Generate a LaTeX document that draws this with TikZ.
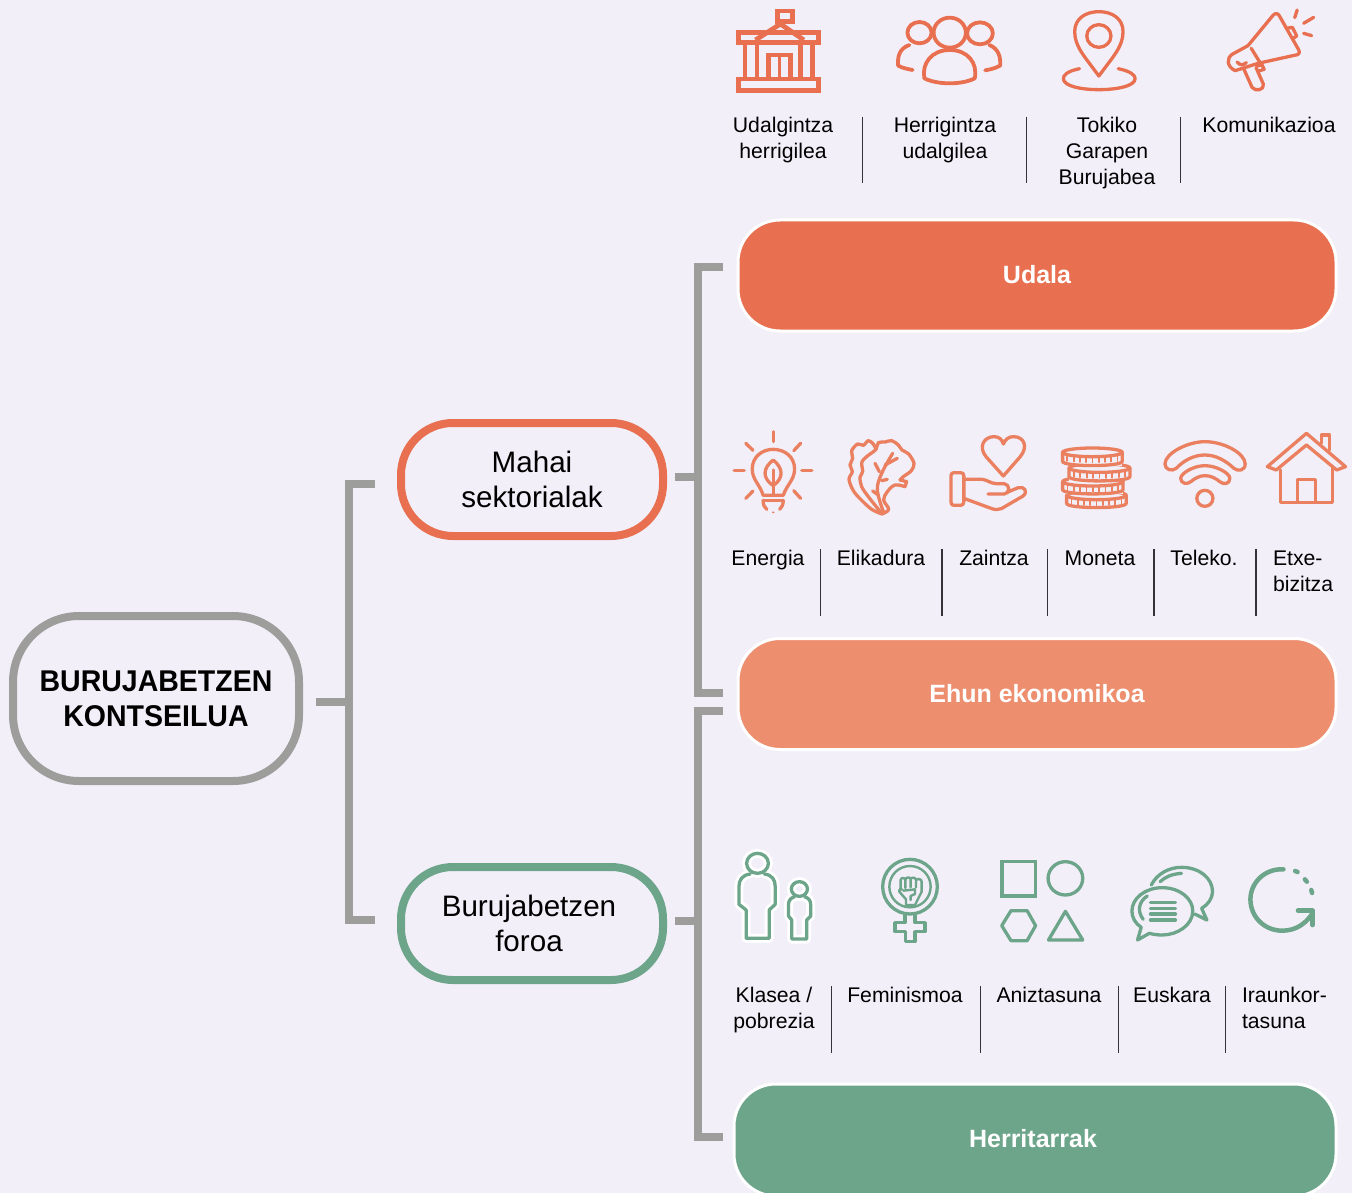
\documentclass[tikz,border=0pt]{standalone}
\usepackage{fontspec}
\setmainfont{Liberation Sans}
\newfontfamily\condfont{Liberation Sans}[FakeStretch=0.95]
\definecolor{bg}{HTML}{F2EFF9}
\definecolor{gr}{HTML}{9D9D9B}
\definecolor{orA}{HTML}{E87050}
\definecolor{orB}{HTML}{ED8E6E}
\definecolor{orC}{HTML}{EA8060}
\definecolor{grn}{HTML}{6DA58A}
\definecolor{sep}{HTML}{333338}
\newcommand\st{\rule[-10pt]{0pt}{26pt}}
\newcommand\coin[4]{%
  \pgfmathsetmacro\cxm{(#1+#2)/2}%
  \pgfmathsetmacro\rxm{(#2-#1)/2}%
  \fill[bg] (#1,#3+13) -- (#1,#3+#4) -- (#2,#3+#4) -- (#2,#3+13) -- cycle;
  \draw[ic,fill=bg] (#1,#3+13) -- (#1,#3+#4-13) .. controls (#1,#3+#4+4) and (#2,#3+#4+4) .. (#2,#3+#4-13) -- (#2,#3+13);
  \draw[ic,fill=bg] (\cxm,#3+13) ellipse [x radius=\rxm, y radius=13];
  \foreach \u in {-0.84,-0.63,-0.42,-0.21,0,0.21,0.42,0.63,0.84}{
    \pgfmathsetmacro\tx{\cxm+\u*\rxm}
    \pgfmathsetmacro\ty{#3+24+6*(1-\u*\u)}
    \draw[ic,line width=1.8pt] (\tx,\ty) -- (\tx,\ty+13);}
}
\tikzset{
  zrow/.style={shift={(720,#1)},x=0.40304pt,y=-0.33333pt},
  tri/.style args={#1/#2}{shift={(#1,#2)},x=0.33333pt,y=-0.33333pt},
  ic/.style={line width=3.3pt,line cap=round,line join=round},
  bld/.style={line width=4.8pt,line join=miter},
  bracket/.style={draw=gr,line width=8pt,line join=miter},
  pill/.style={rectangle,inner sep=0pt,outer sep=0pt,line width=8pt,align=center,font=\fontsize{29.6}{35}\selectfont,text=black},
  band/.style={rectangle,inner sep=0pt,outer sep=0pt,draw=white,line width=3pt,rounded corners=42pt,align=center,text=white,font=\fontsize{25}{30}\bfseries\selectfont},
  lbl/.style={anchor=north,inner sep=0pt,outer sep=0pt,align=center,text=black,font=\fontsize{21.2}{26}\selectfont},
  lbll/.style={anchor=north west,inner sep=0pt,outer sep=0pt,align=left,text=black,font=\fontsize{21.2}{26}\selectfont},
  sepl/.style={draw=sep,line width=1.3pt}
}
\begin{document}
\begin{tikzpicture}[x=1pt,y=-1pt]
\useasboundingbox (0,0) rectangle (1352,1193);
\fill[bg] (0,0) rectangle (1352,1193);

% pills
\node[pill,draw=gr,rounded corners=66pt,minimum width=286pt,minimum height=165pt,font=\condfont\fontsize{30}{35}\bfseries\selectfont] (main) at (156,698.5) {BURUJABETZEN\\KONTSEILUA};
\node[pill,draw=orA,rounded corners=52pt,minimum width=262pt,minimum height=113pt] (mahai) at (532,479.5) {Mahai\\sektorialak};
\node[pill,draw=grn,rounded corners=52pt,minimum width=262pt,minimum height=113pt] (foroa) at (532,923.5) {\hspace*{-6pt}Burujabetzen\\\hspace*{-6pt}foroa};
\node[band,fill=orA,minimum width=598pt,minimum height=111pt] (udala) at (1037,275.5) {\raisebox{2pt}{Udala}};
\node[band,fill=orB,minimum width=598pt,minimum height=111pt] (ehun) at (1037,694) {\raisebox{2pt}{Ehun ekonomikoa}};
\node[band,fill=grn,minimum width=602pt,minimum height=112pt] (herri) at (1035,1140) {\hspace*{-4pt}\raisebox{4pt}{Herritarrak}};

% brackets
\coordinate (s1) at (316,702); \coordinate (j1) at (349,702);
\coordinate (a1) at (375,484); \coordinate (a2) at (349,484);
\coordinate (a3) at (349,920); \coordinate (a4) at (375,920);
\draw[bracket] (a1) -- (a2) -- (a3) -- (a4);
\draw[bracket] (s1) -- (j1);
\coordinate (s2) at (675,477); \coordinate (j2) at (698,477);
\coordinate (b1) at (723,267); \coordinate (b2) at (698,267);
\coordinate (b3) at (698,693); \coordinate (b4) at (723,693);
\draw[bracket] (b1) -- (b2) -- (b3) -- (b4);
\draw[bracket] (s2) -- (j2);
\coordinate (s3) at (675,921); \coordinate (j3) at (698,921);
\coordinate (c1) at (723,711); \coordinate (c2) at (698,711);
\coordinate (c3) at (698,1137); \coordinate (c4) at (723,1137);
\draw[bracket] (c1) -- (c2) -- (c3) -- (c4);
\draw[bracket] (s3) -- (j3);

% labels row 1
\node[lbl] (l11) at (783,117) {\st Udalgintza\\\st herrigilea};
\node[lbl] (l12) at (945,117) {\st Herrigintza\\\st udalgilea};
\node[lbl] (l13) at (1107,117) {\st Tokiko\\\st Garapen\\\st Burujabea};
\node[lbl] (l14) at (1269,117) {\st Komunikazioa};
% labels row 2
\node[lbl] (l21) at (768,549) {\st Energia};
\node[lbl] (l22) at (881,549) {\st Elikadura};
\node[lbl] (l23) at (994,549) {\st Zaintza};
\node[lbl] (l24) at (1100,549) {\st Moneta};
\node[lbl] (l25) at (1204,549) {\st Teleko.};
\node[lbll] (l26) at (1273,549) {\st Etxe-\\\st bizitza};
% labels row 3
\node[lbl] (l31) at (774,986) {\st Klasea /\\\st pobrezia};
\node[lbl] (l32) at (905,986) {\st Feminismoa};
\node[lbl] (l33) at (1049,986) {\st Aniztasuna};
\node[lbl] (l34) at (1172,986) {\st Euskara};
\node[lbll] (l35) at (1242,986) {\st Iraunkor-\\\st tasuna};

% row 1 icons and separators
\begin{scope}[zrow=0]
  \foreach \s in {354,760,1143} \draw[sepl] (\s,350) -- (\s,550);
  \begin{scope}[draw=orA,color=orA]
    % building
    \draw[bld] (142,33) rectangle (180,65);
    \draw[bld] (150,65) -- (150,75);
    \draw[bld] (88,120) -- (150,72) -- (208,120);
    \draw[bld] (45,97) rectangle (245,127);
    \draw[bld] (45,237) rectangle (245,272);
    \foreach \s in {62,92,200,230} \draw[bld] (\s,127) -- (\s,237);
    \draw[bld] (120,237) -- (120,165) -- (175,165) -- (175,237);
    \draw[line width=3.4pt] (148,172) -- (148,237);
    % people
    \draw[ic,line width=3.8pt] (570,98) ellipse [x radius=40, y radius=45];
    \draw[ic,line width=3.8pt] (495,98) ellipse [x radius=30, y radius=32];
    \draw[ic,line width=3.8pt] (645,100) ellipse [x radius=32, y radius=33];
    \draw[ic,line width=3.8pt] (507,235) .. controls (500,190) and (525,150) .. (570,150) .. controls (615,150) and (640,190) .. (632,235) .. controls (600,255) and (540,255) .. (507,235) -- cycle;
    \draw[ic,line width=3.8pt] (470,135) .. controls (445,145) and (440,170) .. (442,197) .. controls (455,205) and (465,207) .. (478,210);
    \draw[ic,line width=3.8pt] (668,135) .. controls (690,145) and (697,170) .. (695,197) .. controls (682,205) and (672,208) .. (658,211);
    % pin
    \draw[ic] (940,228) .. controls (905,170) and (880,140) .. (880,95) .. controls (880,55) and (908,35) .. (940,35) .. controls (972,35) and (1000,55) .. (1000,95) .. controls (1000,140) and (975,170) .. (940,228) -- cycle;
    \draw[ic] (940,108) ellipse [x radius=30, y radius=34];
    \draw[ic] (892,206) .. controls (860,214) and (852,226) .. (852,236) .. controls (852,258) and (895,269) .. (940,269) .. controls (985,269) and (1030,258) .. (1030,236) .. controls (1030,226) and (1020,214) .. (988,206);
    % megaphone
    \draw[ic] (1310,137) -- (1372,46) .. controls (1378,38) and (1385,40) .. (1388,48) -- (1436,150) .. controls (1440,160) and (1435,165) .. (1425,166) -- (1335,190);
    \draw[ic] (1310,137) -- (1272,162) .. controls (1255,175) and (1258,200) .. (1278,212) -- (1335,190);
    \draw[ic] (1318,145) -- (1340,188);
    \draw[ic] (1405,85) -- (1420,82) -- (1431,108) -- (1421,116);
    \draw[ic] (1283,186) .. controls (1290,197) and (1298,196) .. (1306,188);
    \draw[ic] (1300,208) -- (1320,262) .. controls (1328,276) and (1352,270) .. (1348,252) -- (1330,203);
    \draw[ic] (1332,198) -- (1345,195) -- (1350,208) -- (1337,213);
    \draw[ic] (1432,30) -- (1426,53);
    \draw[ic] (1473,52) -- (1448,70);
    \draw[ic] (1448,100) -- (1468,107);
  \end{scope}
\end{scope}

% row 2 icons and separators
\begin{scope}[zrow=420]
  \foreach \s in {250,551,812,1077,1330} \draw[sepl] (\s,388) -- (\s,588);
  \begin{scope}[draw=orC,color=orC]
    % bulb
    \draw[ic] (132,35) -- (132,65);
    \draw[ic] (35,152) -- (60,152);
    \draw[ic] (203,152) -- (228,152);
    \draw[ic] (64,70) -- (82,91);
    \draw[ic] (200,70) -- (183,92);
    \draw[ic] (64,235) -- (82,213);
    \draw[ic] (200,235) -- (183,212);
    \draw[ic] (107,226) .. controls (100,195) and (80,180) .. (80,147) .. controls (80,110) and (105,88) .. (132,88) .. controls (160,88) and (185,110) .. (185,147) .. controls (185,180) and (165,195) .. (157,226) -- cycle;
    \draw[ic] (132,120) .. controls (105,145) and (105,175) .. (132,197) .. controls (158,175) and (158,145) .. (132,120) -- cycle;
    \draw[ic] (132,150) -- (132,226);
    \draw[ic] (107,241) -- (157,241);
    \draw[ic] (107,241) .. controls (107,255) and (110,262) .. (116,268);
    \draw[ic] (157,241) .. controls (157,255) and (153,262) .. (148,268);
    \fill (132,277) circle [x radius=3.5, y radius=3];
    % hand + heart
    \draw[ic] (703,168) -- (660,110) .. controls (640,80) and (655,50) .. (680,50) .. controls (692,50) and (700,58) .. (703,72) .. controls (708,58) and (716,50) .. (728,50) .. controls (755,50) and (765,80) .. (745,110) -- cycle;
    \draw[ic] (580,158) -- (597,158) .. controls (603,158) and (605,162) .. (605,168) -- (605,245) .. controls (605,252) and (602,256) .. (597,256) -- (580,256) .. controls (575,256) and (573,252) .. (573,245) -- (573,168) .. controls (573,162) and (575,158) .. (580,158) -- cycle;
    \draw[ic] (605,178) -- (650,178) .. controls (665,180) and (670,190) .. (685,191) -- (705,191) .. controls (720,192) and (720,222) .. (705,222) -- (665,222);
    \draw[ic] (712,217) -- (740,203) .. controls (755,198) and (765,215) .. (752,228) -- (698,266) .. controls (690,270) and (682,270) .. (670,264) -- (605,235);
    % wifi
    \draw[ic] (1104,132) .. controls (1104,100) and (1160,65) .. (1203,65) .. controls (1250,65) and (1303,100) .. (1303,132) .. controls (1303,152) and (1285,155) .. (1275,145) .. controls (1255,122) and (1230,105) .. (1203,105) .. controls (1175,105) and (1150,122) .. (1132,145) .. controls (1122,155) and (1104,150) .. (1104,132) -- cycle;
    \draw[ic] (1143,175) .. controls (1143,160) and (1175,137) .. (1203,137) .. controls (1232,137) and (1265,160) .. (1265,175) .. controls (1265,192) and (1250,195) .. (1240,185) .. controls (1230,175) and (1218,167) .. (1203,167) .. controls (1190,167) and (1178,175) .. (1168,185) .. controls (1158,195) and (1143,190) .. (1143,175) -- cycle;
    \draw[ic] (1203,235) ellipse [x radius=20, y radius=24];
    % house
    \draw[ic] (1358,140) -- (1455,40) -- (1552,140) -- (1530,150) -- (1455,75) -- (1380,150) -- cycle;
    \draw[ic] (1390,150) -- (1390,247) -- (1520,247) -- (1520,140);
    \draw[ic] (1432,247) -- (1432,178) -- (1477,178) -- (1477,247);
    \draw[ic] (1492,70) -- (1492,45) -- (1512,45) -- (1512,90);
    % coins
    \coin{860}{1008}{213}{50}
    \coin{850}{1000}{172}{50}
    \coin{866}{1017}{131}{52}
    \coin{850}{998}{84}{53}
  \end{scope}
\end{scope}

% lettuce
\begin{scope}[tri={840/430},draw=orC,color=orC]
  \draw[ic] plot[smooth,tension=0.55] coordinates {(126,252) (95,238) (62,208) (40,182) (27,148) (37,125) (30,105) (38,85) (35,62) (53,42) (70,46) (85,32) (100,42) (108,58)};
  \draw[ic] plot[smooth,tension=0.55] coordinates {(90,72) (108,58) (115,38) (135,36) (155,32) (175,45) (186,60) (206,72) (222,100) (214,122) (190,140) (180,150)};
  \draw[ic] (180,150) -- (200,155) -- (195,170);
  \draw[ic] plot[smooth,tension=0.6] coordinates {(195,170) (165,165) (142,185) (131,210) (146,238) (126,252)};
  \draw[ic] plot[smooth,tension=0.55] coordinates {(90,72) (66,95) (68,125) (60,142) (65,170) (85,200) (125,250)};
  \draw[ic] plot[smooth,tension=0.6] coordinates {(130,245) (112,180) (125,130) (158,70)};
  \draw[ic] (118,125) -- (105,100);
  \draw[ic] (135,105) -- (172,85);
  \draw[ic] (125,152) -- (142,148);
  \draw[ic] (115,195) -- (98,183);
\end{scope}

% row 3
\begin{scope}[zrow=840]
  \foreach \s in {277,646,989,1255} \draw[sepl] (\s,438) -- (\s,638);
  \begin{scope}[draw=grn,color=grn]
    % adult and child, with white halo
    \foreach \c/\w in {white/9pt,grn/3.3pt}{
      \draw[draw=\c,line width=\w,line cap=round,line join=round] (93,70) ellipse [x radius=27, y radius=30];
      \draw[draw=\c,line width=\w,line cap=round,line join=round] (75,102) .. controls (55,105) and (47,120) .. (47,140) -- (47,193) -- (65,210) -- (65,295) -- (122,295) -- (122,210) -- (137,193) -- (137,140) .. controls (137,120) and (130,105) .. (110,102);
      \draw[draw=\c,line width=\w,line cap=round,line join=round] (197,147) ellipse [x radius=20, y radius=22];
      \draw[draw=\c,line width=\w,line cap=round,line join=round] (185,170) .. controls (175,175) and (170,180) .. (170,195) -- (170,228) -- (178,240) -- (178,297) -- (215,297) -- (215,240) -- (225,228) -- (225,195) .. controls (225,180) and (220,175) .. (210,170);
    }
    % shapes
    \draw[ic,line join=miter] (700,65) rectangle (783,168);
    \draw[ic] (857,115) ellipse [x radius=43, y radius=50];
    \draw[ic] (699,257) -- (722,212) -- (762,212) -- (783,257) -- (762,302) -- (722,302) -- cycle;
    \draw[ic] (857,214) -- (900,300) -- (815,300) -- cycle;
    % speech bubbles
    \draw[ic] (1070,135) .. controls (1085,100) and (1115,82) .. (1145,82) .. controls (1190,82) and (1222,115) .. (1222,155) .. controls (1222,175) and (1210,195) .. (1195,205) -- (1208,240) -- (1178,222);
    \draw[ic] (1092,125) .. controls (1105,110) and (1122,102) .. (1145,100);
    \draw[ic] (1045,262) .. controls (1030,250) and (1022,232) .. (1022,213) .. controls (1022,175) and (1055,143) .. (1097,143) .. controls (1140,143) and (1173,175) .. (1173,213) .. controls (1173,255) and (1135,285) .. (1097,285) .. controls (1085,285) and (1075,283) .. (1065,280) -- (1036,300) -- cycle;
    \draw[ic] (1050,238) .. controls (1035,215) and (1038,185) .. (1060,168);
    \foreach \yy in {187,205,222,240} \draw[ic] (1068,\yy) -- (1130,\yy);
    % regeneration
    \draw[line width=4.5pt,line cap=round,line join=round] (1398,88) .. controls (1350,85) and (1316,130) .. (1316,178) .. controls (1316,230) and (1350,272) .. (1395,272) .. controls (1425,272) and (1450,255) .. (1467,225);
    \draw[line width=4.5pt,line cap=round,line join=round] (1434,212) -- (1470,212) -- (1470,255);
    \draw[line width=4.5pt,line cap=round] (1427,93) -- (1433,96);
    \draw[line width=4.5pt,line cap=round] (1451,118) -- (1456,125);
    \draw[line width=4.5pt,line cap=round] (1467,150) -- (1469,159);
  \end{scope}
\end{scope}

% feminism symbol
\begin{scope}[tri={870/850},draw=grn,color=grn]
  \draw[ic] (120,110) ellipse [x radius=82, y radius=82];
  \draw[ic,line width=2.4pt] (120,110) ellipse [x radius=62, y radius=62];
  \draw[ic] (105,192) -- (105,218) -- (75,218) -- (75,245) -- (106,245) -- (106,275) -- (135,275) -- (135,245) -- (165,245) -- (165,218) -- (135,218) -- (135,192);
  \draw[ic,line width=2.4pt] (92,118) -- (92,90) .. controls (92,82) and (105,82) .. (106,90) -- (106,114);
  \draw[ic,line width=2.4pt] (106,90) .. controls (106,80) and (122,80) .. (122,88) -- (122,112);
  \draw[ic,line width=2.4pt] (122,88) .. controls (123,80) and (138,82) .. (138,90) -- (138,112);
  \draw[ic,line width=2.4pt] (138,92) .. controls (140,84) and (155,86) .. (155,95) -- (155,125) -- (135,165) -- (108,165) -- (108,148) -- (88,125) .. controls (85,118) and (90,115) .. (96,118);
  \draw[ic,line width=2.4pt] (100,122) -- (135,118) -- (135,132) -- (122,138) -- (122,150);
\end{scope}
\end{tikzpicture}
\end{document}
